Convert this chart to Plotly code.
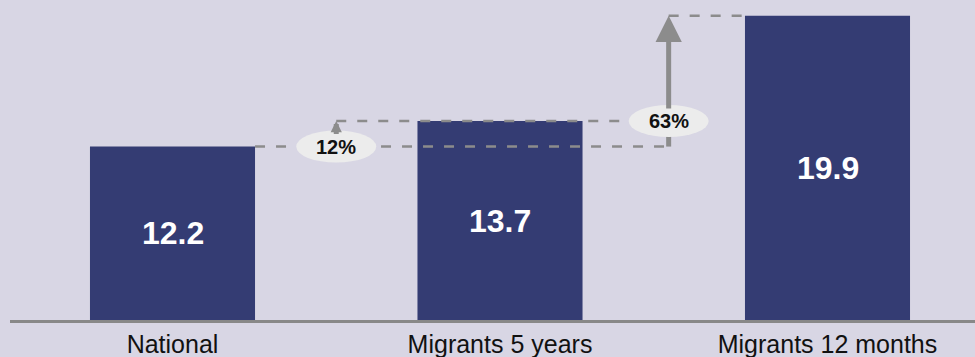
import plotly.graph_objects as go

# Unemployment rate by group (%)
categories = ["National", "Migrants 5 years", "Migrants 12 months"]
rates = [12.2, 13.7, 19.9]

BG = "#d8d6e4"
BAR = "#343c73"
GREY = "#8c8c8c"
PILL = "#ececec"
FONT = "Liberation Sans, Arial, Helvetica, sans-serif"

Y_MIN, Y_MAX = 2, 20.82

x = list(range(len(categories)))
bar_w = 0.504
half = bar_w / 2
arrow_x = [0.5, 1.515]

# relative increase over the national rate
pct = [f"<b>{round((v / rates[0] - 1) * 100)}%</b>" for v in rates]

fig = go.Figure(
    go.Bar(
        x=x,
        y=rates,
        width=bar_w,
        marker=dict(color=BAR, line_width=0),
        hoverinfo="skip",
    )
)

dash = dict(color=GREY, width=2.5, dash="10px,11px")
shapes = [
    # reference levels
    dict(type="line", xref="x", yref="y", x0=x[0] + half, x1=arrow_x[1],
         y0=rates[0], y1=rates[0], line=dash, layer="above"),
    dict(type="line", xref="x", yref="y", x0=arrow_x[0], x1=arrow_x[1],
         y0=rates[1], y1=rates[1], line=dash, layer="above"),
    dict(type="line", xref="x", yref="y", x0=arrow_x[1], x1=x[2] - half - 0.01,
         y0=rates[2], y1=rates[2], line=dash, layer="above"),
    # lower part of the long arrow shaft
    dict(type="line", xref="x", yref="y", x0=arrow_x[1], x1=arrow_x[1],
         y0=rates[0], y1=rates[1], line=dict(color=GREY, width=5), layer="above"),
]
# pill backgrounds for the percentage labels
for ax_, level in [(arrow_x[0], rates[0]), (arrow_x[1], rates[1])]:
    shapes.append(dict(
        type="circle", xref="x", yref="y",
        xsizemode="pixel", xanchor=ax_, x0=-40, x1=40,
        ysizemode="pixel", yanchor=level, y0=-16, y1=16,
        fillcolor=PILL, line=dict(width=0), layer="above",
    ))

# value labels centred in the visible part of each bar
annotations = [
    dict(x=xi, y=(Y_MIN + v) / 2, xref="x", yref="y", text=f"<b>{v:.1f}</b>",
         showarrow=False, font=dict(size=32, color="white", family=FONT))
    for xi, v in zip(x, rates)
]
annotations += [
    dict(x=arrow_x[0], y=rates[1], ax=arrow_x[0], ay=rates[0], xref="x", yref="y",
         axref="x", ayref="y", text=pct[1], showarrow=True, arrowhead=2,
         arrowsize=0.45, arrowwidth=5, arrowcolor=GREY,
         font=dict(size=20, color="#111111", family=FONT)),
    dict(x=arrow_x[1], y=rates[2], ax=arrow_x[1], ay=rates[1], xref="x", yref="y",
         axref="x", ayref="y", text=pct[2], showarrow=True, arrowhead=2,
         arrowsize=1.05, arrowwidth=5, arrowcolor=GREY,
         font=dict(size=20, color="#111111", family=FONT)),
]

fig.update_layout(
    width=975,
    height=357,
    margin=dict(l=10, r=0, t=0, b=37),
    paper_bgcolor=BG,
    plot_bgcolor=BG,
    showlegend=False,
    shapes=shapes,
    annotations=annotations,
    xaxis=dict(
        range=[-0.4962, 2.4504],
        tickvals=x,
        ticktext=categories,
        showline=True,
        linecolor="#888888",
        linewidth=2.5,
        showgrid=False,
        zeroline=False,
        ticks="",
        tickfont=dict(size=25, color="#111111", family=FONT),
        fixedrange=True,
    ),
    yaxis=dict(range=[Y_MIN, Y_MAX], visible=False, fixedrange=True),
)

fig.write_html("out.html", config={"displayModeBar": False})
